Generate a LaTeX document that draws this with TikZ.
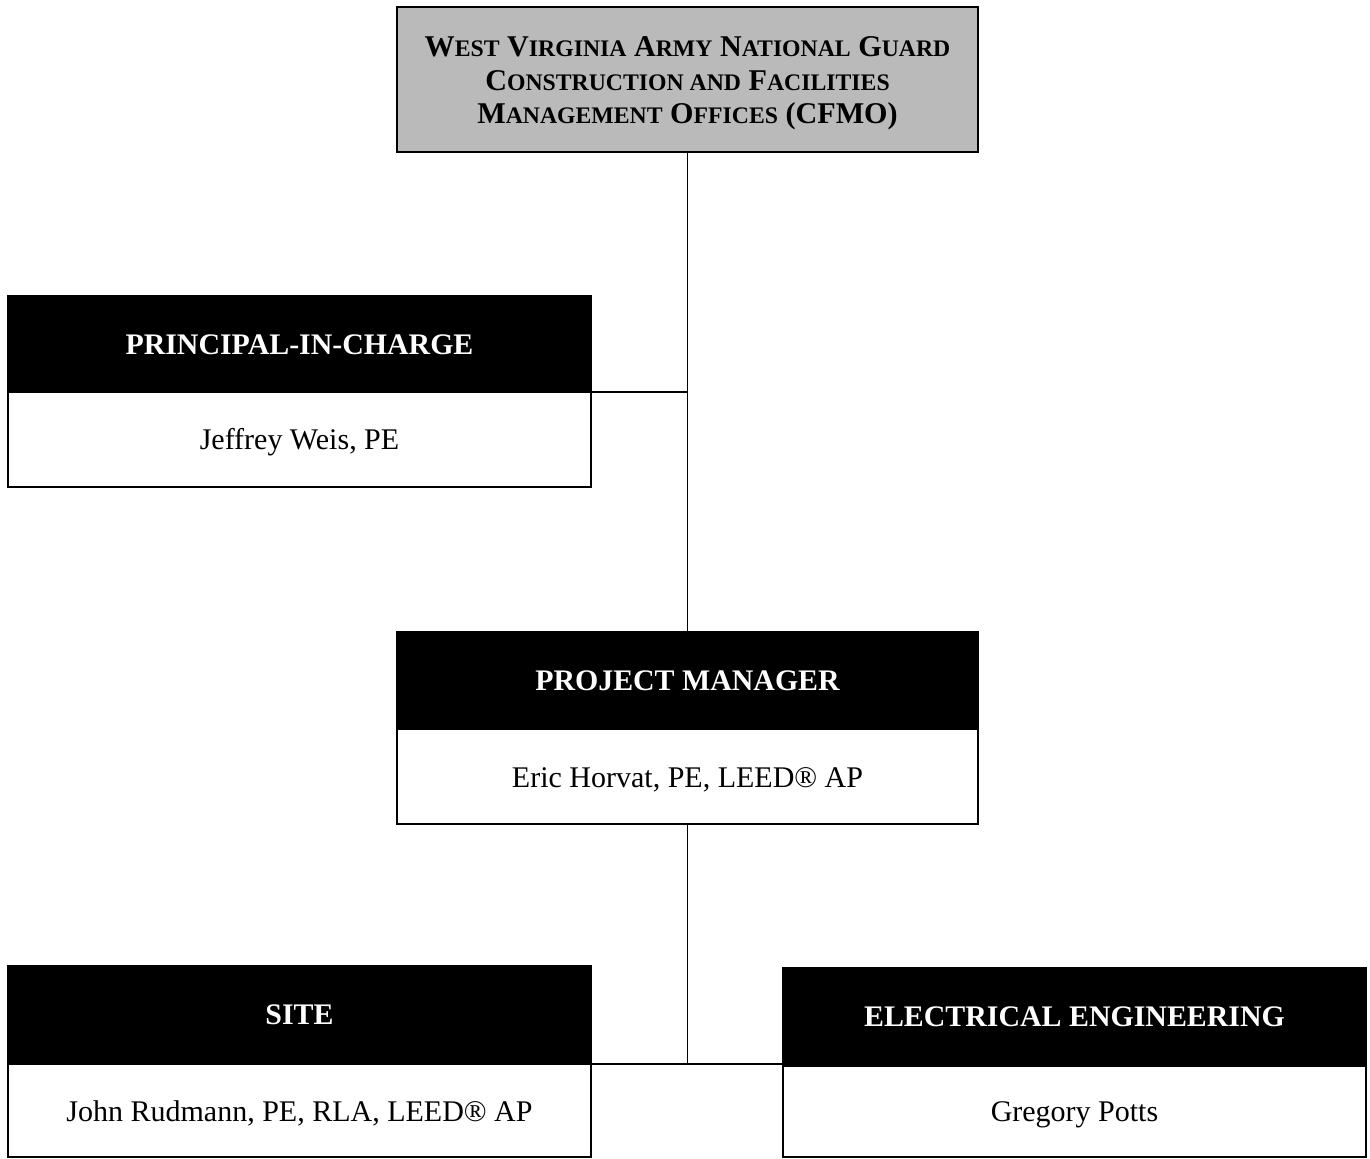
\documentclass[tikz,border=0pt]{standalone}
\usepackage{fontspec}
\setmainfont{Liberation Serif}
\usepackage{tikz}
\usetikzlibrary{positioning}

\newcommand{\sclow}[1]{{\fontsize{17.8}{25}\selectfont #1}}

\begin{document}
\begin{tikzpicture}[x=0.75pt,y=0.75pt,yscale=-1,xscale=1,
    box/.style={draw,line width=0.9pt,inner sep=0pt,outer sep=0pt,align=center},
    headbox/.style={box,fill=black,text=white,font=\fontsize{22.4}{26}\selectfont\bfseries},
    namebox/.style={box,fill=white,font=\fontsize{22.5}{26}\selectfont},
    topbox/.style={box,fill=black!27,font=\fontsize{22.6}{25}\selectfont\bfseries},
    link/.style={line width=0.9pt}]
        \useasboundingbox (0,0) rectangle (1370,1159);

        % top office
        \node[topbox,minimum width=435.75pt,minimum height=108.75pt] (cfmo) at (687.5,79.5)
            {\rule{0pt}{3pt}\\[-7pt]
             W\sclow{EST} V\sclow{IRGINIA} A\sclow{RMY} N\sclow{ATIONAL} G\sclow{UARD}\\
             C\sclow{ONSTRUCTION AND} F\sclow{ACILITIES}\\
             M\sclow{ANAGEMENT} O\sclow{FFICES} (CFMO)};

        % principal
        \node[headbox,minimum width=437.25pt,minimum height=72.75pt] (pichead) at (299.5,344.5) {PRINCIPAL-IN-CHARGE};
        \node[namebox,minimum width=437.25pt,minimum height=71.25pt] (picname) at (299.5,439.5) {\rule{0pt}{20pt}Jeffrey Weis, PE};

        % project manager
        \node[headbox,minimum width=435.75pt,minimum height=72.75pt] (pmhead) at (687.5,680.5) {PROJECT MANAGER};
        \node[namebox,minimum width=435.75pt,minimum height=71.25pt] (pmname) at (687.5,776.5) {\rule{0pt}{20pt}Eric Horvat, PE, LEED® AP};

        % site
        \node[headbox,minimum width=437.25pt,minimum height=73.5pt] (sitehead) at (299.5,1015) {SITE};
        \node[namebox,minimum width=437.25pt,minimum height=69.75pt] (sitename) at (299.5,1110.5) {\rule{0pt}{20pt}John Rudmann, PE, RLA, LEED® AP};

        % electrical
        \node[headbox,minimum width=437.25pt,minimum height=73.5pt] (eehead) at (1074.5,1017) {ELECTRICAL ENGINEERING};
        \node[namebox,minimum width=437.25pt,minimum height=68.25pt] (eename) at (1074.5,1111.5) {\rule{0pt}{20pt}Gregory Potts};

        \draw[link] (cfmo.south) -- (pmhead.north);
        \draw[link] (picname.north east) -- (cfmo.south |- picname.north east);
        \draw[link] (pmname.south) -- (pmname.south |- sitename.north);
        \draw[link] (sitename.north east) -- (sitename.north east -| eename.west);
\end{tikzpicture}
\end{document}
